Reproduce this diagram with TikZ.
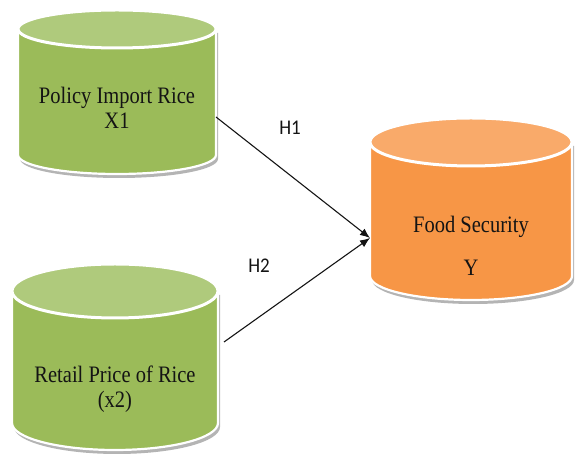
\documentclass[tikz,border=0pt]{standalone}
\usepackage{fontspec}
\setmainfont{Liberation Serif}
\newfontfamily\hypfont{Carlito}
\usepackage{xcolor}
\usetikzlibrary{arrows.meta,calc,positioning}
\definecolor{RiceGreen}{HTML}{9BBB59}
\definecolor{RiceGreenTop}{HTML}{AFCA7C}
\definecolor{FoodOrange}{HTML}{F79646}
\definecolor{FoodOrangeTop}{HTML}{F9AA6A}
\definecolor{CanShadow}{HTML}{B4B4B4}
\definecolor{InkBlack}{HTML}{141414}

% can body + lid behind an (empty) node; #2 = x radius, #3 = y radius of the lid
\newcommand{\drawcan}[5]{%
  \path ([yshift=#3pt]#1.north west) coordinate (#1-tl)
        ([yshift=#3pt]#1.north east) coordinate (#1-tr)
        ([yshift=#3pt]#1.south west) coordinate (#1-bl)
        ([yshift=#3pt]#1.north) coordinate (#1-top);
  \fill[CanShadow] ([shift={(2pt,-4pt)}]#1-tl) -- ([shift={(2pt,-4pt)}]#1-bl)
    arc[start angle=180,end angle=360,x radius=#2pt,y radius=#3pt]
    -- ([shift={(2pt,-4pt)}]#1-tr) -- cycle;
  \filldraw[fill=#4,draw=white,line width=2.2pt] (#1-tl) -- (#1-bl)
    arc[start angle=180,end angle=360,x radius=#2pt,y radius=#3pt]
    -- (#1-tr) -- cycle;
  \filldraw[fill=#5,draw=white,line width=3pt] (#1-top) ellipse[x radius=#2pt,y radius=#3pt];
}

\begin{document}
\begin{tikzpicture}[
    x=1pt,y=1pt,
    >=Latex,
    can/.style={inner sep=0pt,outer sep=0pt},
    cantext/.style={font=\fontsize{20.5}{22}\selectfont,align=center,text=InkBlack,yscale=1.15,transform shape},
    hyp/.style={font=\hypfont\fontsize{19}{21}\selectfont,text=InkBlack,yscale=1.1,transform shape},
    arr/.style={-{Latex[length=10pt,width=8pt]},line width=1.1pt,draw=InkBlack}
  ]
  \useasboundingbox (0,0) rectangle (576,465);

  % the three cans
  \node[can,minimum width=198pt,minimum height=126pt] (pir) at (117,354) {};
  \node[can,minimum width=202pt,minimum height=134pt] (fs) at (471,232) {};
  \node[can,minimum width=206pt,minimum height=132pt] (rpr) at (115,81) {};
  \drawcan{pir}{99}{19}{RiceGreen}{RiceGreenTop}
  \drawcan{fs}{101}{24}{FoodOrange}{FoodOrangeTop}
  \drawcan{rpr}{103}{27}{RiceGreen}{RiceGreenTop}

  \node[cantext] (pir-t) at ([yshift=3pt]pir.center) {Policy Import Rice\\X1};
  \node[cantext] (fs-t) at ([yshift=-13pt]fs.center) {Food Security\\[15pt]Y};
  \node[cantext] (rpr-t) at ([yshift=-5pt]rpr.center) {Retail Price of Rice\\(x2)};

  % hypotheses
  \draw[arr] ([yshift=-6pt]pir.east) -- ([yshift=-5pt]fs.west);
  \draw[arr] ([xshift=6pt,yshift=-24pt]rpr.north east) -- ([yshift=-5pt]fs.west);
  \node[hyp] (h1) at (290,337) {H1};
  \node[hyp] (h2) at (259,199) {H2};
\end{tikzpicture}
\end{document}
